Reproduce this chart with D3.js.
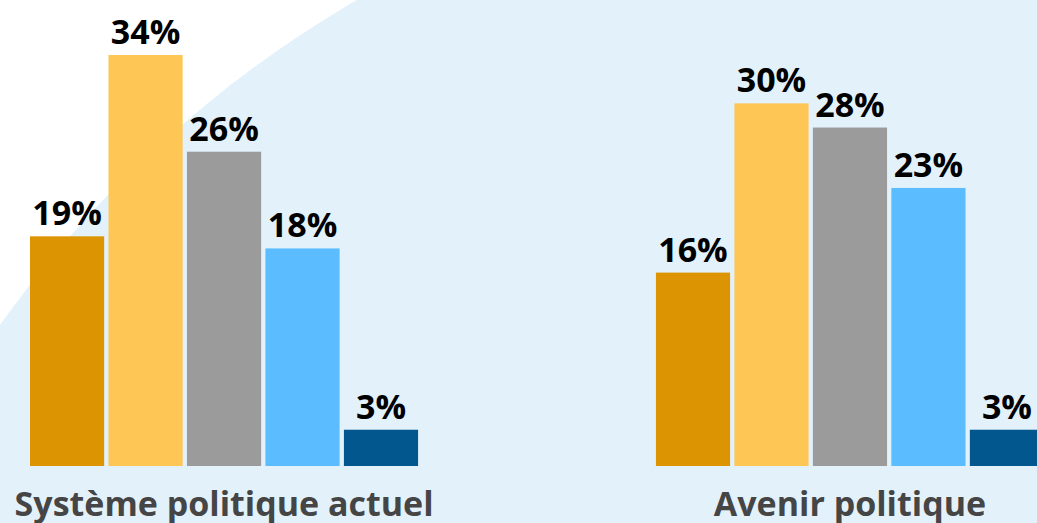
<!DOCTYPE html>
<html>
<head>
<meta charset="utf-8">
<script src="https://cdn.jsdelivr.net/npm/d3@7"></script>
<style>
  html, body { margin: 0; padding: 0; background: #fff; overflow: hidden; }
  svg { display: block; font-family: "Open Sans", "Noto Sans", sans-serif; }
</style>
</head>
<body>
<div id="chart"></div>
<script>
// Two groups of five answers, values in percent
const groups = ['Système politique actuel', 'Avenir politique'];
const answers = ['a1', 'a2', 'a3', 'a4', 'a5'];
const systemeValues = [19, 34, 26, 18, 3];
const avenirValues = [16, 30, 28, 23, 3];
const colors = ['#dc9402', '#fec655', '#9b9b9b', '#5bbdff', '#02588e'];

(function() {
  const width = 1037;
  const height = 523;

  const svg = d3.select('#chart')
    .append('svg')
    .attr('width', width)
    .attr('height', height);

  // background: white page with a big light blue disc coming in from lower right
  svg.append('rect')
    .attr('width', width)
    .attr('height', height)
    .attr('fill', '#ffffff');

  svg.append('circle')
    .attr('cx', 932)
    .attr('cy', 990)
    .attr('r', 1145)
    .attr('fill', '#e3f1fb');

  const rows = groups.map((g, i) => ({
    group: g,
    values: i === 0 ? systemeValues : avenirValues
  }));

  // outer scale for the groups, inner for the bars in a group
  const x0 = d3.scaleBand()
    .domain(groups)
    .range([30, 1044])
    .paddingInner(0.38)
    .paddingOuter(0);

  const x1 = d3.scaleBand()
    .domain(answers)
    .range([0, x0.bandwidth()])
    .paddingInner(0.055);

  const y = d3.scaleLinear()
    .domain([0, 34])
    .range([466, 55]);

  const color = d3.scaleOrdinal()
    .domain(answers)
    .range(colors);

  const groupSel = svg.selectAll('.group')
    .data(rows)
    .enter()
    .append('g')
    .attr('class', 'group')
    .attr('transform', d => `translate(${x0(d.group)}, 0)`);

  const bars = groupSel.selectAll('.bar')
    .data(d => d.values.map((v, i) => ({ key: answers[i], value: v })))
    .enter();

  bars.append('rect')
    .attr('class', 'bar')
    .attr('x', d => x1(d.key))
    .attr('y', d => y(d.value))
    .attr('width', x1.bandwidth())
    .attr('height', d => y(0) - y(d.value))
    .attr('fill', d => color(d.key));

  bars.append('text')
    .attr('class', 'value-label')
    .attr('x', d => x1(d.key) + x1.bandwidth() / 2)
    .attr('y', d => y(d.value) - 11)
    .attr('text-anchor', 'middle')
    .style('font-size', '34px')
    .style('font-weight', 'bold')
    .style('fill', '#000')
    .text(d => d.value + '%');

  // group names under the bars (descenders run off the bottom, as in the original)
  groupSel.append('text')
    .attr('class', 'group-label')
    .attr('x', x0.bandwidth() / 2)
    .attr('y', 516)
    .attr('text-anchor', 'middle')
    .style('font-size', '34px')
    .style('font-weight', 'bold')
    .style('fill', '#454545')
    .text(d => d.group);
})();
</script>
</body>
</html>
